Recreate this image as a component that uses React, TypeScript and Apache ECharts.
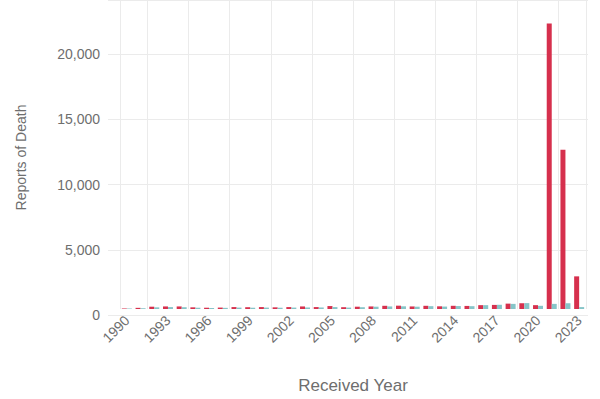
import React, { useEffect, useRef } from "react";
import * as echarts from "echarts";

const years: string[] = [];
for (let y = 1990; y <= 2023; y++) years.push(String(y));

const redValues = [
  40, 90, 180, 200, 200, 130, 100, 110, 150, 140,
  150, 130, 150, 200, 150, 230, 140, 180, 200, 250,
  260, 200, 250, 210, 250, 240, 300, 320, 420, 450,
  300, 22300, 12450, 2550,
];
const tealValues = [
  30, 60, 130, 150, 140, 100, 80, 90, 110, 100,
  110, 100, 110, 120, 120, 150, 110, 140, 180, 200,
  210, 180, 220, 190, 230, 220, 300, 330, 400, 460,
  250, 400, 450, 150,
];
const yTicks = [0, 5000, 10000, 15000, 20000];
const yMax = 24140;

export default function App() {
  const ref = useRef<HTMLDivElement>(null);
  useEffect(() => {
    if (!ref.current) return;
    const chart = echarts.init(ref.current, undefined, { renderer: "svg" });
    const font = "Liberation Sans, Arial, sans-serif";
    const gridColor = "#ebebeb";
    const textColor = "#6e6e6e";
    chart.setOption({
      animation: false,
      backgroundColor: "#ffffff",
      grid: [
        { left: 108, right: 12, top: 0, bottom: 84 },
        { left: 120, right: 14, top: 0, bottom: 84 },
      ],
      xAxis: [
        { type: "value", gridIndex: 0, show: false, min: 0, max: 1 },
        {
          type: "category",
          gridIndex: 1,
          data: years,
          boundaryGap: true,
          name: "Received Year",
          nameLocation: "middle",
          nameGap: 68,
          nameTextStyle: { color: textColor, fontSize: 17, fontFamily: font },
          axisLine: { show: false },
          axisTick: { show: false },
          axisLabel: {
            interval: 2,
            rotate: 45,
            margin: 9,
            color: textColor,
            fontSize: 14,
            fontFamily: font,
          },
          splitLine: {
            show: true,
            interval: (i: number) => i === 0 || i % 3 === 2,
            lineStyle: { color: gridColor, width: 1 },
          },
        },
      ],
      yAxis: [
        {
          type: "value",
          gridIndex: 0,
          min: 0,
          max: yMax,
          interval: 5000,
          name: "Reports of Death",
          nameLocation: "middle",
          nameGap: 80,
          nameTextStyle: { color: textColor, fontSize: 14, fontFamily: font },
          axisLine: { show: false },
          axisTick: { show: false },
          axisLabel: {
            margin: 8,
            color: textColor,
            fontSize: 14,
            fontFamily: font,
            formatter: (v: number) =>
              yTicks.includes(v) ? v.toLocaleString("en-US") : "",
          },
          splitLine: { show: true, lineStyle: { color: gridColor, width: 1 } },
        },
        {
          type: "value",
          gridIndex: 1,
          min: 0,
          max: yMax,
          interval: 5000,
          show: false,
          splitLine: { show: false },
        },
      ],
      series: [
        {
          type: "bar",
          xAxisIndex: 1,
          yAxisIndex: 1,
          data: redValues,
          barWidth: 5,
          barGap: "0%",
          itemStyle: { color: "#d6304d" },
        },
        {
          type: "bar",
          xAxisIndex: 1,
          yAxisIndex: 1,
          data: tealValues,
          barWidth: 5,
          barGap: "0%",
          itemStyle: { color: "#86c5c8" },
        },
      ],
    });
    return () => chart.dispose();
  }, []);
  return (
    <div
      ref={ref}
      style={{ position: "fixed", left: 0, top: 0, width: 600, height: 399 }}
    />
  );
}
